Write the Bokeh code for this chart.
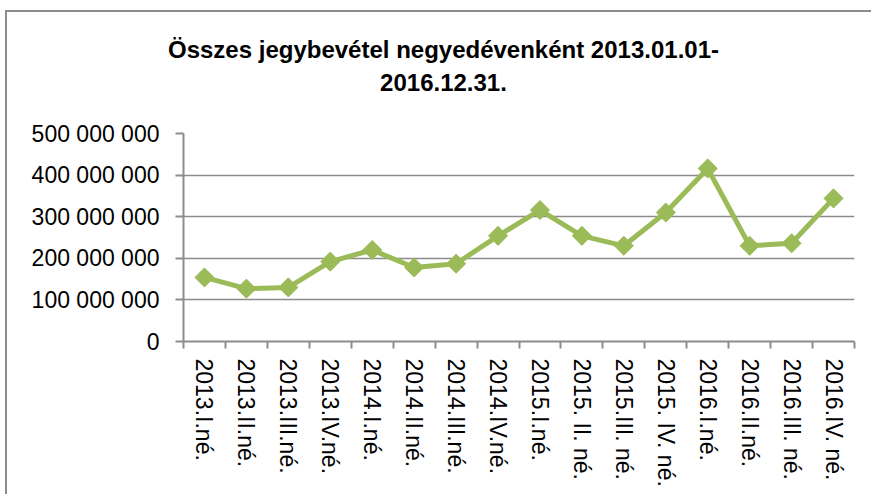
import numpy as np
from bokeh.plotting import figure
from bokeh.models import (Range1d, LinearAxis, FixedTicker, Title, ColumnDataSource, Grid)
from bokeh.embed import file_html
from bokeh.resources import INLINE

# ---- data ----
categories = ["2013.I.né.", "2013.II.né.", "2013.III.né.", "2013.IV.né.",
              "2014.I.né.", "2014.II.né.", "2014.III.né.", "2014.IV.né.",
              "2015.I.né.", "2015. II. né.", "2015.III. né.", "2015. IV. né.",
              "2016.I.né.", "2016.II.né.", "2016.III. né.", "2016.IV. né."]
revenue = [154e6, 127e6, 130e6, 192e6, 220e6, 178e6, 187e6, 254e6,
           316e6, 254e6, 230e6, 310e6, 416e6, 230e6, 236e6, 344e6]
yticks = [0, 100e6, 200e6, 300e6, 400e6, 500e6]
ytick_labels = ["0", "100 000 000", "200 000 000", "300 000 000", "400 000 000", "500 000 000"]
title_lines = ["Összes jegybevétel negyedévenként 2013.01.01-", "2016.12.31."]

GREEN = "#9BBB59"
GRAY = "#8c8c8c"
FONT = "Liberation Sans"

n = len(categories)
xs = np.arange(n) + 0.5
src = ColumnDataSource(dict(x=xs, y=revenue, cat=categories))

p = figure(width=866, height=484, output_backend="svg", toolbar_location=None,
           x_range=Range1d(0, n), y_range=Range1d(0, 500e6),
           x_axis_type=None, y_axis_type=None,
           min_border_left=176, min_border_right=19,
           min_border_top=121, min_border_bottom=155)
p.outline_line_color = None
p.background_fill_color = "white"
p.border_fill_color = "white"
p.styles = {"border-left": f"2px solid {GRAY}", "border-top": f"2px solid {GRAY}",
            "margin-left": "5px", "margin-top": "10px"}

# y axis
yax = LinearAxis(ticker=FixedTicker(ticks=yticks, minor_ticks=[]))
yax.major_label_overrides = {t: l for t, l in zip(yticks, ytick_labels)}
yax.axis_line_color = GRAY
yax.axis_line_width = 2
yax.major_tick_line_color = GRAY
yax.major_tick_line_width = 2
yax.major_tick_out = 8
yax.major_tick_in = 0
yax.minor_tick_line_color = None
yax.major_label_standoff = 16
yax.major_label_text_font = FONT
yax.major_label_text_font_size = "23px"
yax.major_label_text_color = "black"
p.add_layout(yax, "left")

# x axis: labels at category centres, ticks at category boundaries
xax = LinearAxis(ticker=FixedTicker(ticks=list(xs), minor_ticks=list(np.arange(n + 1))))
xax.major_label_overrides = {float(x): c for x, c in zip(xs, categories)}
xax.axis_line_color = GRAY
xax.axis_line_width = 2
xax.major_tick_line_color = None
xax.major_tick_out = 0
xax.major_tick_in = 0
xax.minor_tick_line_color = GRAY
xax.minor_tick_line_width = 2
xax.minor_tick_out = 7
xax.minor_tick_in = 0
xax.major_label_orientation = "vertical"
xax.major_label_standoff = 10
xax.major_label_text_font = FONT
xax.major_label_text_font_size = "23px"
xax.major_label_text_color = "black"
p.add_layout(xax, "below")

# gridlines
g = Grid(dimension=1, ticker=yax.ticker, grid_line_color=GRAY, grid_line_width=1.5)
p.add_layout(g)

# series
p.line("x", "y", source=src, line_color=GREEN, line_width=5)
p.scatter("x", "y", source=src, marker="square", angle=np.pi / 4, size=13.5,
          fill_color=GREEN, line_color=GREEN)

# title: blank spacer nearest the plot, then line 2, then line 1
p.add_layout(Title(text=" ", standoff=10, text_font=FONT,
                   text_font_size="24px"), "above")
for txt, off, so in zip(reversed(title_lines), [196.6, -15.5], [8, 10]):
    p.add_layout(Title(text=txt, align="left", offset=off, standoff=so,
                       text_font=FONT, text_font_style="bold",
                       text_font_size="24px", text_color="black"), "above")

open("out.html", "w").write(file_html(p, INLINE))
